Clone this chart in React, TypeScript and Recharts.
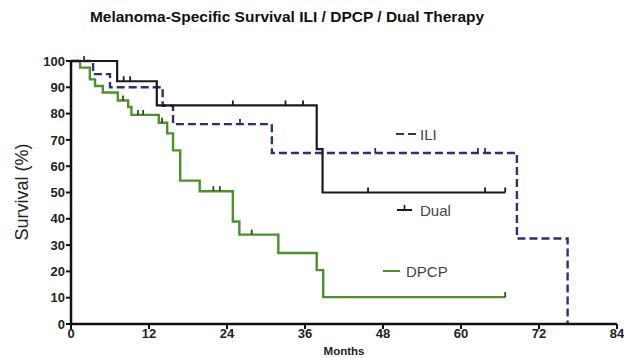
import React from 'react';
import { ComposedChart, Line, XAxis, YAxis } from 'recharts';

// Kaplan-Meier steps (months, survival %)
const iliTimes = [0, 3.4, 6, 14.1, 15.7, 30.9, 68.6, 76.4];
const iliSurv = [100, 95, 90, 83, 76, 65, 32.5, 0];
const iliCensored = [2, 26, 46.8, 62.6, 63.7];

const dualTimes = [0, 7.1, 13.2, 37.8, 38.7];
const dualSurv = [100, 92.3, 83.1, 66.5, 50];
const dualCensored = [8.1, 9.1, 24.9, 33, 35.7, 45.7, 63.7, 66.8];

const dpcpTimes = [0, 1.4, 2.9, 3.7, 4.9, 7.2, 8.8, 9.3, 13.5, 14.8, 15.7, 16.8, 19.8, 24.9, 25.9, 31.9, 37.8, 38.8];
const dpcpSurv = [100, 97.5, 93, 90.5, 88, 85, 82.5, 79.5, 76.5, 72.5, 66, 54.5, 50.5, 39, 34, 27, 20.5, 10.2];
const dpcpCensored = [8, 10.3, 11.1, 14, 21.9, 22.9, 27.8, 66.8];

const monthTicks = [0, 12, 24, 36, 48, 60, 72, 84];
const survTicks = [0, 10, 20, 30, 40, 50, 60, 70, 80, 90, 100];

const FONT = '"Liberation Sans", Arial, sans-serif';

type Pt = { month: number; surv: number; c: boolean };

// merge events and censor marks into one sorted step series
const buildSeries = (times: number[], surv: number[], censored: number[]): Pt[] => {
  const pts: Pt[] = times.map((t, i) => ({ month: t, surv: surv[i], c: false }));
  censored.forEach((t) => {
    let i = 0;
    while (i + 1 < times.length && times[i + 1] <= t) i++;
    pts.push({ month: t, surv: surv[i], c: true });
  });
  return pts.sort((a, b) => a.month - b.month);
};

const iliData = buildSeries(iliTimes, iliSurv, iliCensored);
const dualData = buildSeries(dualTimes, dualSurv, dualCensored);
const dpcpData = buildSeries(dpcpTimes, dpcpSurv, dpcpCensored);

const censorDot = (color: string) => (props: any) => {
  const { cx, cy, payload, index } = props;
  if (!payload?.c) return <g key={`n-${index}`} />;
  return <line key={`c-${index}`} x1={cx} x2={cx} y1={cy - 5} y2={cy} stroke={color} strokeWidth={1.8} />;
};

const axisTick = { fontSize: 13, fontWeight: 700, fill: '#222', fontFamily: FONT };

export default function App() {
  return (
    <div style={{ position: 'absolute', left: 0, top: 0, width: 624, height: 358, background: '#fff', fontFamily: FONT }}>
      <div style={{ position: 'absolute', left: 0, width: 574, top: 8, textAlign: 'center', fontSize: 15.5, fontWeight: 700, color: '#111' }}>
        Melanoma-Specific Survival ILI / DPCP / Dual Therapy
      </div>
      <div
        style={{
          position: 'absolute', left: 22, top: 192, fontSize: 18, color: '#222', whiteSpace: 'nowrap',
          transform: 'translate(-50%, -50%) rotate(-90deg)',
        }}
      >
        Survival (%)
      </div>

      <ComposedChart width={624} height={358} margin={{ top: 61, right: 7, bottom: 0, left: 0 }}>
        <XAxis
          type="number"
          dataKey="month"
          domain={[0, 84]}
          ticks={monthTicks}
          interval={0}
          height={34}
          tick={axisTick}
          tickSize={5}
          tickMargin={0}
          axisLine={{ stroke: '#111', strokeWidth: 2.5 }}
          tickLine={{ stroke: '#111', strokeWidth: 2 }}
          label={{ value: 'Months', position: 'insideBottom', offset: 3, style: { fontSize: 11.5, fontWeight: 700, fill: '#222', fontFamily: FONT } }}
        />
        <YAxis
          type="number"
          domain={[0, 100]}
          ticks={survTicks}
          interval={0}
          width={71}
          tick={axisTick}
          tickSize={5}
          tickMargin={1}
          axisLine={{ stroke: '#111', strokeWidth: 2.5 }}
          tickLine={{ stroke: '#111', strokeWidth: 2 }}
        />
        <Line
          data={dpcpData}
          dataKey="surv"
          type="stepAfter"
          stroke="#4f8f30"
          strokeWidth={2.4}
          dot={censorDot('#2d4a1e')}
          activeDot={false}
          isAnimationActive={false}
        />
        <Line
          data={iliData}
          dataKey="surv"
          type="stepAfter"
          stroke="#2b3270"
          strokeWidth={2.4}
          strokeDasharray="8 4"
          dot={censorDot('#2b3270')}
          activeDot={false}
          isAnimationActive={false}
        />
        <Line
          data={dualData}
          dataKey="surv"
          type="stepAfter"
          stroke="#1a1a1a"
          strokeWidth={2.2}
          dot={censorDot('#1a1a1a')}
          activeDot={false}
          isAnimationActive={false}
        />
      </ComposedChart>

      {/* in-plot legend */}
      <svg style={{ position: 'absolute', left: 0, top: 0 }} width={624} height={358}>
        <line x1={396} x2={416} y1={134} y2={134} stroke="#2b3270" strokeWidth={2} strokeDasharray="8 4" />
        <line x1={397} x2={412} y1={210} y2={210} stroke="#1a1a1a" strokeWidth={2} />
        <line x1={404.5} x2={404.5} y1={205} y2={210} stroke="#1a1a1a" strokeWidth={1.6} />
        <line x1={383} x2={400} y1={271} y2={271} stroke="#4f8f30" strokeWidth={2} />
      </svg>
      <div style={{ position: 'absolute', left: 420, top: 126, fontSize: 15, color: '#444' }}>ILI</div>
      <div style={{ position: 'absolute', left: 420, top: 202, fontSize: 15, color: '#444' }}>Dual</div>
      <div style={{ position: 'absolute', left: 406, top: 263, fontSize: 15, color: '#444' }}>DPCP</div>
    </div>
  );
}
